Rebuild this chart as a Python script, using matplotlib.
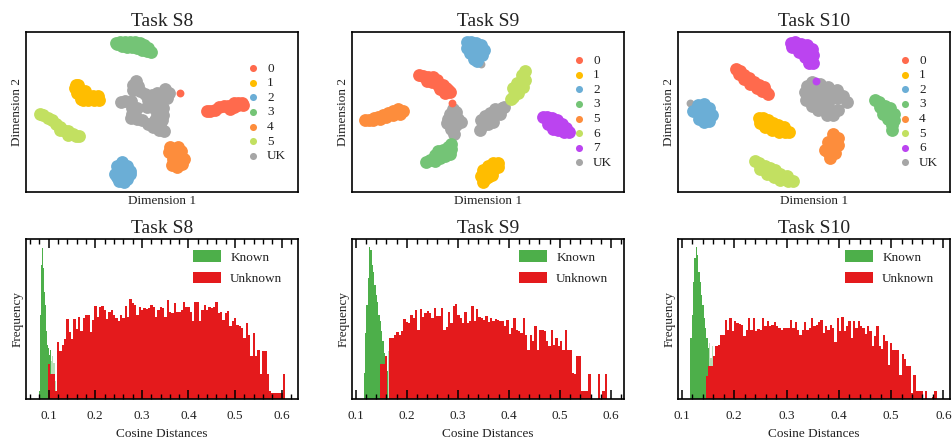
#!/usr/bin/python3
#
# t-SNE cluster maps and cosine distance histograms for tasks S8, S9, S10.

import numpy as np
import matplotlib
matplotlib.use("Agg")
import matplotlib.pyplot as plt
from matplotlib.ticker import MultipleLocator

W, H = 952, 440

COLORS = {"0": "#ff6a4d", "1": "#ffbd00", "2": "#6baed6", "3": "#74c476",
          "4": "#fd8d3c", "5": "#c2e061", "6": "#bb44f0", "7": "#bb44f0",
          "UK": "#a6a6a6"}
COLORS_S9 = dict(COLORS, **{"5": "#fd8d3c", "6": "#c2e061"})

TASKS = ["Task S8", "Task S9", "Task S10"]

# embedding points per class
s8_points = {
    "0": [(622, 333), (632, 334), (645, 330), (658, 322), (672, 318), (685, 318), (690, 328), (702, 320), (702, 310),
          (716, 308), (728, 308), (730, 314), (716, 316)],
    "1": [(227, 254), (235, 254), (225, 265), (238, 268), (232, 280), (245, 285), (255, 272), (242, 296), (250, 300),
          (265, 300), (265, 288), (280, 287), (293, 289), (296, 300), (282, 300)],
    "2": [(365, 485), (352, 497), (380, 497), (390, 512), (365, 512), (346, 520), (390, 522), (365, 530), (380, 535),
          (358, 543), (372, 545), (350, 530)],
    "3": [(348, 128), (360, 126), (375, 126), (390, 126), (405, 127), (420, 130), (432, 136), (445, 145), (453, 155),
          (440, 153), (425, 150), (410, 145), (395, 140), (380, 140), (365, 138), (350, 133)],
    "4": [(510, 440), (535, 440), (508, 455), (525, 455), (545, 452), (520, 475), (540, 470), (553, 475), (517, 495),
          (533, 500), (548, 490), (530, 488)],
    "5": [(119, 342), (130, 344), (143, 352), (155, 360), (168, 370), (180, 380), (190, 390), (205, 393), (220, 400),
          (237, 406), (228, 406), (205, 403), (180, 390)],
    "UK": [(408, 243), (398, 255), (415, 258), (400, 270), (420, 272), (435, 282), (455, 285), (470, 280), (495, 268),
           (508, 280), (490, 280), (503, 293), (480, 300), (460, 300), (445, 300), (363, 305), (375, 303), (392, 303),
           (397, 340), (393, 352), (405, 345), (410, 325), (397, 325), (455, 320), (470, 320), (490, 325), (470, 340),
           (490, 345), (485, 360), (465, 360), (480, 375), (492, 393), (478, 390), (460, 380), (445, 370), (425, 360),
           (410, 355), (440, 322)],
}
s8_strays = {"0": [(541, 278)]}

s9_points = {
    "0": [(298, 226), (310, 228), (325, 230), (340, 232), (352, 240), (338, 245), (322, 243), (355, 255), (370, 255),
          (378, 265), (385, 270), (390, 276), (375, 278), (360, 268)],
    "1": [(484, 528), (490, 510), (505, 498), (520, 487), (535, 489), (535, 500), (520, 510), (505, 520), (495, 535),
          (490, 546), (505, 530), (515, 525)],
    "2": [(441, 127), (455, 126), (470, 128), (485, 135), (493, 150), (480, 150), (462, 145), (441, 145), (450, 160),
          (470, 165), (486, 165), (462, 178), (473, 183)],
    "3": [(320, 485), (332, 478), (345, 483), (360, 472), (375, 468), (345, 465), (355, 452), (370, 450), (385, 440),
          (393, 430), (393, 445), (390, 460)],
    "5": [(136, 359), (148, 358), (162, 354), (175, 350), (190, 345), (205, 338), (220, 332), (235, 328), (250, 332),
          (240, 340), (220, 343), (200, 350), (180, 356), (160, 360)],
    "6": [(572, 298), (580, 290), (595, 280), (610, 262), (616, 240), (615, 212), (605, 225), (590, 250), (605, 245),
          (580, 265), (595, 265), (610, 225)],
    "7": [(670, 350), (682, 350), (697, 354), (712, 360), (725, 370), (738, 382), (746, 396), (732, 396), (715, 390),
          (700, 385), (685, 372), (700, 368), (718, 378)],
    "UK": [(400, 328), (390, 340), (385, 355), (383, 368), (395, 385), (403, 400), (400, 345), (415, 355), (423, 365),
           (410, 375), (392, 365), (408, 335), (484, 360), (495, 348), (510, 338), (525, 328), (545, 324), (553, 320),
           (540, 340), (520, 350), (505, 360), (490, 375), (482, 388), (505, 372), (520, 366)],
}
s9_strays = {"0": [(398, 308)], "UK": [(485, 192)]}

s10_points = {
    "0": [(303, 208), (315, 212), (325, 225), (340, 235), (355, 247), (370, 255), (385, 262), (393, 276), (398, 281),
          (380, 272), (365, 265), (345, 252), (325, 238), (310, 222)],
    "1": [(370, 354), (382, 354), (397, 358), (412, 368), (428, 375), (445, 380), (462, 395), (450, 396), (430, 396),
          (410, 388), (390, 380), (375, 368)],
    "2": [(172, 332), (187, 314), (205, 312), (220, 324), (230, 345), (220, 363), (205, 366), (190, 355), (205, 335),
          (215, 345), (188, 335)],
    "3": [(720, 300), (733, 307), (750, 318), (765, 324), (778, 340), (778, 360), (772, 388), (770, 375), (758, 355),
          (745, 340), (735, 322), (765, 342)],
    "4": [(595, 400), (608, 412), (608, 435), (600, 458), (585, 472), (569, 450), (580, 425), (595, 440), (578, 455)],
    "5": [(360, 482), (372, 488), (388, 497), (405, 503), (420, 510), (435, 520), (455, 528), (473, 543), (458, 543),
          (435, 538), (415, 530), (395, 520), (375, 505)],
    "6": [(467, 130), (480, 126), (497, 132), (515, 135), (530, 147), (533, 165), (533, 188), (520, 188), (508, 170),
          (490, 155), (470, 140), (512, 155)],
    "UK": [(530, 247), (515, 257), (508, 275), (512, 300), (530, 318), (550, 330), (575, 343), (595, 343), (610, 330),
           (637, 307), (625, 287), (605, 270), (580, 262), (555, 252), (530, 270), (555, 280), (580, 285), (605, 295),
           (530, 295), (555, 310), (580, 315)],
}
s10_strays = {"6": [(544, 243)], "UK": [(165, 310)]}

# histogram bins: first edge, bin width, heights
s8_known_start, s8_known_width = 0.0793, 0.00214
s8_known = [23, 253, 403, 453, 393, 323, 283, 203, 163, 153, 133, 148, 113, 128, 108, 108, 53]
s8_known_pale = [12, 13, 14, 15, 16]
s8_unknown_start, s8_unknown_width = 0.0979, 0.005
s8_unknown = [106, 75, 75, 23, 171, 143, 161, 181, 239, 200, 181, 241, 211, 248, 205, 245, 252, 253, 200, 238,
              281, 248, 278, 279, 268, 241, 263, 268, 253, 243, 235, 253, 243, 281, 248, 301, 288, 283, 253, 278,
              268, 273, 270, 273, 283, 278, 248, 268, 278, 273, 248, 298, 263, 258, 288, 263, 263, 268, 291, 278,
              278, 263, 233, 291, 291, 233, 268, 283, 268, 278, 273, 278, 291, 258, 263, 238, 258, 266, 218, 233,
              243, 223, 218, 213, 183, 228, 193, 128, 198, 128, 148, 75, 145, 145, 75, 23, 18, 18, 18, 18, 18, 75]

s9_known_start, s9_known_width = 0.1157, 0.0026
s9_known = [78, 198, 283, 363, 456, 448, 403, 383, 343, 313, 293, 253, 233, 203, 173, 138, 113, 83, 143]
s9_known_pale = [18]
s9_unknown_start, s9_unknown_width = 0.1477, 0.00458
s9_unknown = [106, 106, 128, 0, 183, 183, 193, 201, 193, 203, 241, 231, 228, 253, 245, 268, 208, 270, 248, 258,
              265, 258, 245, 275, 250, 251, 275, 208, 215, 261, 228, 281, 285, 253, 243, 228, 263, 228, 235, 281,
              233, 271, 248, 243, 238, 251, 231, 243, 233, 241, 238, 235, 233, 218, 238, 195, 213, 243, 208, 203,
              198, 243, 193, 148, 193, 173, 220, 148, 208, 208, 203, 173, 158, 208, 161, 183, 160, 173, 148, 208,
              148, 148, 78, 75, 128, 128, 23, 23, 23, 75, 0, 0, 0, 75, 0, 23, 75]

s10_known_start, s10_known_width = 0.1159, 0.00255
s10_known = [183, 253, 353, 423, 456, 433, 383, 353, 313, 283, 243, 213, 183, 153, 168, 123, 158, 98]
s10_known_pale = [14, 15, 16, 17]
s10_unknown_start, s10_unknown_width = 0.1459, 0.00446
s10_unknown = [70, 98, 98, 128, 158, 161, 193, 193, 238, 208, 243, 203, 235, 228, 225, 223, 188, 208, 243, 206,
               243, 205, 211, 208, 243, 218, 235, 218, 223, 231, 218, 213, 208, 213, 213, 213, 238, 213, 231, 208,
               191, 208, 231, 208, 213, 243, 218, 223, 231, 238, 198, 218, 208, 223, 213, 171, 245, 203, 248, 203,
               218, 233, 183, 233, 213, 235, 218, 213, 195, 218, 203, 158, 188, 218, 158, 150, 191, 173, 101, 168,
               148, 148, 148, 71, 135, 121, 98, 98, 18, 71, 23, 23, 23, 0, 23, 0, 0, 5, 23]

plt.rcParams.update({"font.family": ["Liberation Serif", "DejaVu Serif"], "font.size": 9,
                     "axes.linewidth": 1.2, "text.color": "#222222", "axes.labelcolor": "#222222",
                     "xtick.labelcolor": "#222222"})


def axes_px(fig, left, top, right, bottom):
    return fig.add_axes([left / W, 1 - bottom / H, (right - left) / W, (bottom - top) / H])


def draw_map(ax, points, strays, xlim, title, colors, legend_xy):
    for name, pts in points.items():
        xs = [p[0] for p in pts]
        ys = [p[1] for p in pts]
        ax.scatter(xs, ys, s=85, color=colors[name], linewidths=0, label=name, zorder=1 if name == "UK" else 2)
    for name, pts in strays.items():
        xs = [p[0] for p in pts]
        ys = [p[1] for p in pts]
        ax.scatter(xs, ys, s=32, color=colors[name], linewidths=0, zorder=0.5 if name == "UK" else 3)
    ax.set_xlim(*xlim)
    ax.set_ylim(575, 96)
    ax.set_xticks([])
    ax.set_yticks([])
    ax.set_xlabel("Dimension 1", fontsize=9.5, labelpad=2)
    ax.set_ylabel("Dimension 2", fontsize=9.5, labelpad=2)
    ax.set_title(title, fontsize=14, pad=4)
    ax.legend(loc="upper left", bbox_to_anchor=legend_xy, frameon=False, fontsize=9.5, markerscale=0.55,
              labelspacing=0.18, handletextpad=0.1, borderpad=0, borderaxespad=0)


def draw_hist(ax, known, known_pale, known_start, known_width, unknown, unknown_start, unknown_width, xlim, title,
              legend_xy):
    known_edges = known_start + known_width * np.arange(len(known) + 1)
    unknown_edges = unknown_start + unknown_width * np.arange(len(unknown) + 1)
    solid = [0 if i in known_pale else v for i, v in enumerate(known)]
    pale = [v if i in known_pale else 0 for i, v in enumerate(known)]
    ax.stairs(solid, known_edges, fill=True, color="#4daf4a", label="Known", linewidth=0)
    ax.stairs(pale, known_edges, fill=True, color="#4daf4a", alpha=0.4, linewidth=0)
    ax.stairs(unknown, unknown_edges, fill=True, color="#e41a1c", label="Unknown", linewidth=0)
    ax.set_xlim(*xlim)
    ax.set_ylim(0, 481)
    ax.set_yticks([])
    ax.xaxis.set_major_locator(MultipleLocator(0.1))
    ax.xaxis.set_minor_locator(MultipleLocator(0.02))
    ax.tick_params(axis="x", which="major", direction="in", top=True, length=6.5, width=1.1, labelsize=9.5, pad=8)
    ax.tick_params(axis="x", which="minor", direction="in", top=True, length=3.5, width=1.0)
    ax.set_xlabel("Cosine Distances", fontsize=9.5, labelpad=4)
    ax.set_ylabel("Frequency", fontsize=9.5, labelpad=2)
    ax.set_title(title, fontsize=14, pad=4)
    ax.legend(loc="upper left", bbox_to_anchor=legend_xy, frameon=False, fontsize=9.5, handlelength=2.1,
              handleheight=1.0, labelspacing=0.6, handletextpad=0.7, borderpad=0, borderaxespad=0)


def main():
    fig = plt.figure(figsize=(W / 100, H / 100), dpi=100)

    ax = axes_px(fig, 26, 32, 298, 192)
    draw_map(ax, s8_points, s8_strays, (78, 895), TASKS[0], COLORS, (0.785, 0.81))
    ax = axes_px(fig, 352, 32, 624, 192)
    draw_map(ax, s9_points, s9_strays, (97, 912), TASKS[1], COLORS_S9, (0.785, 0.86))
    ax = axes_px(fig, 678, 32, 950, 192)
    draw_map(ax, s10_points, s10_strays, (128, 945), TASKS[2], COLORS, (0.785, 0.86))

    ax = axes_px(fig, 26, 239, 298, 399)
    draw_hist(ax, s8_known, s8_known_pale, s8_known_start, s8_known_width, s8_unknown, s8_unknown_start,
              s8_unknown_width, (0.0514, 0.635), TASKS[0], (0.615, 0.93))
    ax = axes_px(fig, 352, 239, 624, 399)
    draw_hist(ax, s9_known, s9_known_pale, s9_known_start, s9_known_width, s9_unknown, s9_unknown_start,
              s9_unknown_width, (0.0928, 0.6255), TASKS[1], (0.615, 0.93))
    ax = axes_px(fig, 678, 239, 950, 399)
    draw_hist(ax, s10_known, s10_known_pale, s10_known_start, s10_known_width, s10_unknown, s10_unknown_start,
              s10_unknown_width, (0.0924, 0.6127), TASKS[2], (0.615, 0.93))

    fig.savefig("out.png", dpi=100)


if __name__ == "__main__":
    main()
